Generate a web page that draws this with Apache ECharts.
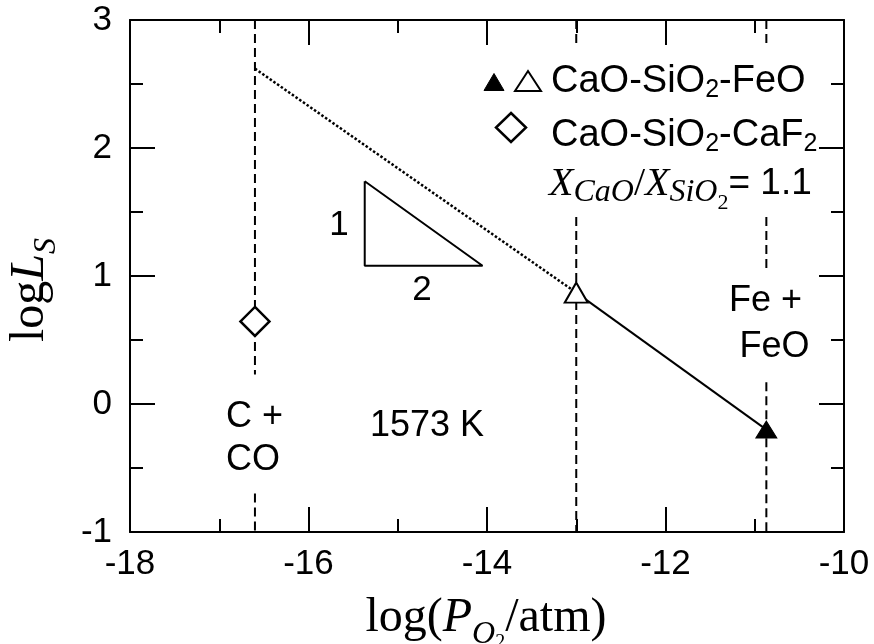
<!DOCTYPE html>
<html><head><meta charset="utf-8">
<script src="https://cdn.jsdelivr.net/npm/echarts@6/dist/echarts.min.js"></script>
<style>html,body{margin:0;padding:0;background:#fff}#c{width:874px;height:644px}</style>
</head><body><div id="c"></div>
<script>
// ---- data ----
const xTickValues = [-18, -16, -14, -12, -10];
const yTickValues = [-1, 0, 1, 2, 3];
// vertical phase-boundary segments: [x, yStart, yEnd]
const boundarySegments = [
  [-16.6, 3.0, 0.23], [-16.6, -0.70, -1.0],
  [-13.0, 3.0, 2.79], [-13.0, 1.46, -1.0],
  [-10.87, 3.0, 2.79], [-10.87, 1.46, 1.06], [-10.87, 0.17, -1.0]
];
const feoOpen = [[-13.0, 0.87]];
const feoFilled = [[-10.87, -0.20]];
const caf2Points = [[-16.6, 0.645]];
const feoFitLine = [[-13.0, 0.87], [-10.87, -0.20]];
const extrapolatedLine = [[-16.6, 2.62], [-13.0, 0.87]];
const slopeTriangle = [[-15.37, 1.74], [-15.37, 1.08], [-14.05, 1.08], [-15.37, 1.74]];

// ---- chart ----
const chart = echarts.init(document.getElementById('c'), null, {renderer: 'canvas'});
const BLACK = '#000';
const SANS = '"Liberation Sans", Arial, sans-serif';
const SERIF = '"Liberation Serif", "Times New Roman", serif';

function axis(kind, pos, showLabel, ticks) {
  return {
    type: 'value', position: pos,
    min: ticks[0], max: ticks[ticks.length - 1], interval: ticks[1] - ticks[0],
    axisLine: {show: true, onZero: false, lineStyle: {color: BLACK, width: 2}},
    axisTick: {show: true, inside: true, length: 25, lineStyle: {color: BLACK, width: 2}},
    minorTick: {show: true, splitNumber: 2, length: 13, lineStyle: {color: BLACK, width: 2}},
    splitLine: {show: false}, minorSplitLine: {show: false},
    axisLabel: {show: showLabel, fontSize: 35, color: BLACK, fontFamily: SANS,
      margin: kind === 'x' ? 15 : 18},
  };
}

const series = [];
boundarySegments.forEach(s => {
  series.push({type: 'line', data: [[s[0], s[1]], [s[0], s[2]]], symbol: 'none',
    lineStyle: {color: BLACK, width: 2, type: [9, 5], opacity: 1}, z: 2, silent: true});
});
series.push({type: 'line', data: extrapolatedLine, symbol: 'none',
  lineStyle: {color: BLACK, width: 2.5, type: [2.5, 2], opacity: 1}, z: 3});
series.push({type: 'line', data: feoFitLine, symbol: 'none',
  lineStyle: {color: BLACK, width: 2, opacity: 1}, z: 3});
series.push({type: 'line', data: slopeTriangle, symbol: 'none',
  lineStyle: {color: BLACK, width: 2, opacity: 1}, z: 3});
series.push({type: 'scatter', data: feoOpen, symbol: 'triangle', symbolSize: [23, 20],
  itemStyle: {color: '#fff', borderColor: BLACK, borderWidth: 2, opacity: 1}, z: 5});
series.push({type: 'scatter', data: feoFilled, symbol: 'triangle', symbolSize: [21, 17],
  itemStyle: {color: BLACK, borderColor: BLACK, borderWidth: 1, opacity: 1}, z: 5});
series.push({type: 'scatter', data: caf2Points, symbol: 'diamond', symbolSize: [29, 29],
  itemStyle: {color: '#fff', borderColor: BLACK, borderWidth: 2.5, opacity: 1}, z: 5});

function txt(x, y, text, opts) {
  return Object.assign({type: 'text', x: x, y: y, z: 10,
    style: Object.assign({text: text, fill: BLACK, fontSize: 36, fontFamily: SANS,
      align: 'center', verticalAlign: 'middle'}, opts || {})});
}

const legendRich = {
  m: {fontSize: 38, fontFamily: SANS, fill: BLACK, lineHeight: 40},
  s: {fontSize: 25, fontFamily: SANS, fill: BLACK, lineHeight: 25, padding: [16, 0, 0, 0]}
};
const ratioRich = {
  X: {fontSize: 40, fontFamily: SERIF, fontStyle: 'italic', fill: BLACK, lineHeight: 42},
  s: {fontSize: 32, fontFamily: SERIF, fontStyle: 'italic', fill: BLACK, lineHeight: 32, padding: [17, 0, 0, 0]},
  ss: {fontSize: 22, fontFamily: SERIF, fill: BLACK, lineHeight: 22, padding: [38, 0, 0, 0]},
  sl: {fontSize: 40, fontFamily: SERIF, fill: BLACK, lineHeight: 42},
  m: {fontSize: 37, fontFamily: SANS, fill: BLACK, lineHeight: 40}
};
const titleRich = {
  m: {fontSize: 48, fontFamily: SERIF, fill: BLACK, lineHeight: 52},
  i: {fontSize: 48, fontFamily: SERIF, fontStyle: 'italic', fill: BLACK, lineHeight: 52},
  s: {fontSize: 32, fontFamily: SERIF, fontStyle: 'italic', fill: BLACK, lineHeight: 32, padding: [33, 0, 0, 0]},
  ss: {fontSize: 20, fontFamily: SERIF, fill: BLACK, lineHeight: 20, padding: [49, 0, 0, 0]}
};

const graphic = [
  // axis titles
  {type: 'text', x: 486, y: 618, z: 10, style: {
    text: '{m|log(}{i|P}{s|O}{ss|2}{m|/atm)}', rich: titleRich, align: 'center', verticalAlign: 'middle'}},
  {type: 'text', x: 30, y: 290, rotation: Math.PI / 2, z: 10, style: {
    text: '{m|log}{i|L}{s|S}', rich: titleRich, align: 'center', verticalAlign: 'middle'}},
  // legend symbols
  {type: 'polygon', z: 10, shape: {points: [[484, 90.5], [504, 90.5], [494, 73.5]]},
    style: {fill: BLACK, stroke: BLACK, lineWidth: 1}},
  {type: 'polygon', z: 10, shape: {points: [[515, 91], [541, 91], [528, 71]]},
    style: {fill: '#fff', stroke: BLACK, lineWidth: 2}},
  {type: 'polygon', z: 10, shape: {points: [[511, 113], [526, 127.5], [511, 142], [496, 127.5]]},
    style: {fill: '#fff', stroke: BLACK, lineWidth: 2.5}},
  // legend texts
  {type: 'text', x: 551, y: 82, z: 10, style: {text: '{m|CaO-SiO}{s|2}{m|-FeO}', rich: legendRich,
    align: 'left', verticalAlign: 'middle'}},
  {type: 'text', x: 551, y: 136, z: 10, style: {text: '{m|CaO-SiO}{s|2}{m|-CaF}{s|2}', rich: legendRich,
    align: 'left', verticalAlign: 'middle'}},
  {type: 'text', x: 549, y: 184, z: 10, style: {text: '{X|X}{s|CaO}{sl|/}{X|X}{s|SiO}{ss|2}{m|= 1.1}', rich: ratioRich,
    align: 'left', verticalAlign: 'middle'}},
  // annotations
  txt(339, 225, '1', {fontSize: 35}),
  txt(422, 290, '2', {fontSize: 35}),
  txt(226, 417, 'C +', {align: 'left'}),
  txt(226, 460, 'CO', {align: 'left'}),
  txt(370, 426, '1573 K', {align: 'left'}),
  txt(765.5, 301, 'Fe +'),
  txt(774.5, 347, 'FeO')
];

chart.setOption({
  animation: false,
  backgroundColor: '#fff',
  grid: {left: 130, right: 30, top: 20, bottom: 112, containLabel: false, outerBoundsMode: 'none'},
  xAxis: [axis('x', 'bottom', true, xTickValues), axis('x', 'top', false, xTickValues)],
  yAxis: [axis('y', 'left', true, yTickValues), axis('y', 'right', false, yTickValues)],
  series: series,
  graphic: graphic
});
</script>
</body></html>
